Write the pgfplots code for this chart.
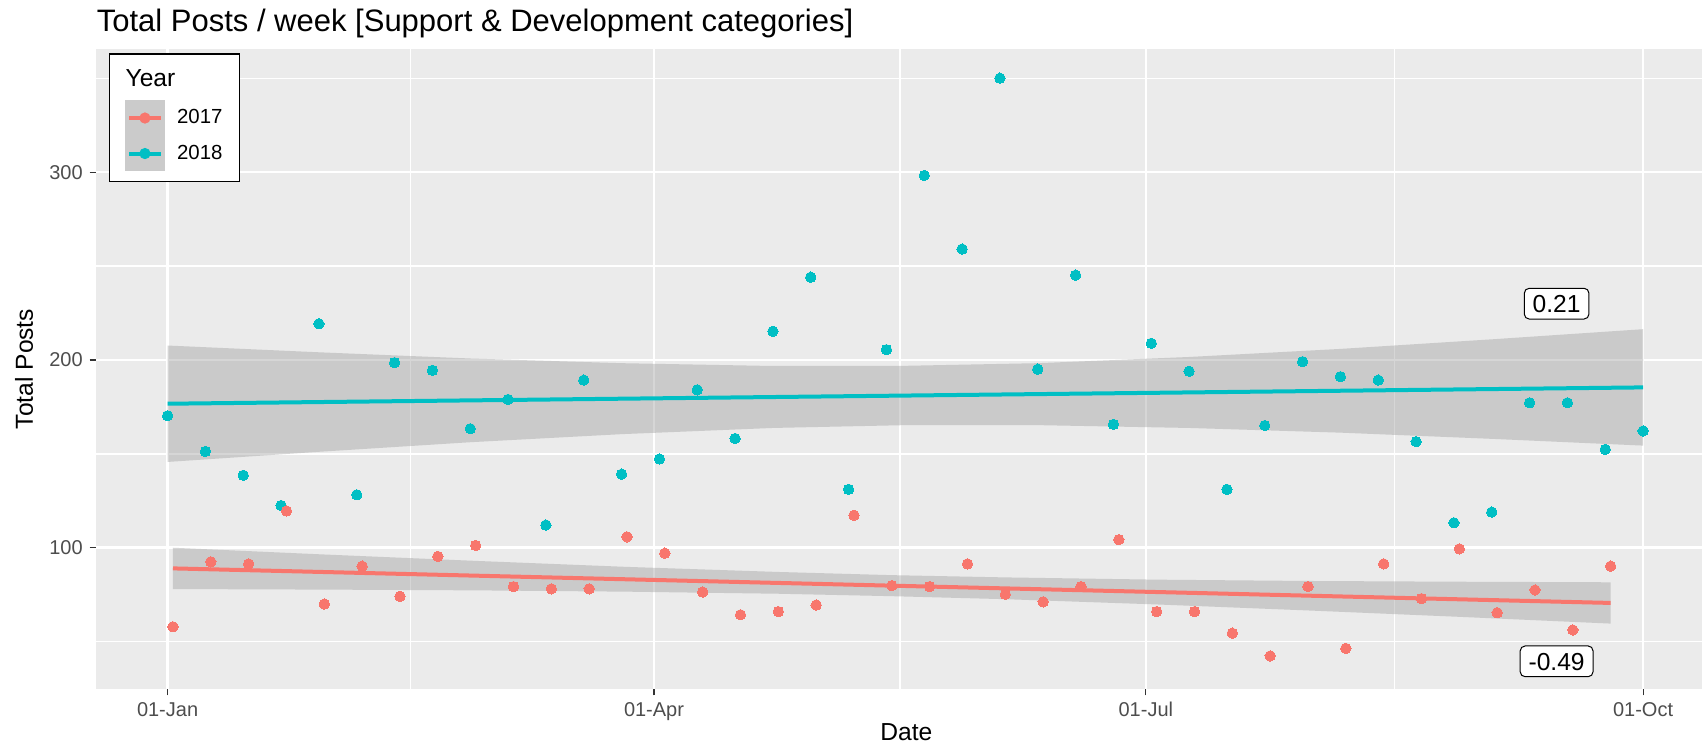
\documentclass[border=0pt]{standalone}
\usepackage{pgfplots}
\pgfplotsset{compat=1.18}
\usepackage{fontspec}
\setmainfont{Liberation Sans}

\definecolor{ggred}{HTML}{F8766D}
\definecolor{ggcyan}{HTML}{00BFC4}
\definecolor{ggbg}{HTML}{EBEBEB}
\definecolor{ggband}{HTML}{999999}
\definecolor{ggtick}{HTML}{333333}
\definecolor{ggtext}{HTML}{4D4D4D}
\definecolor{ggkey}{HTML}{CBCBCB}

% weekly totals, day of year (0 = 01-Jan)
\pgfplotstableread{
day posts
0 170.3
7 151.3
14 138.6
21 122.5
28 219.3
35 128.2
42 198.6
49 194.5
56 163.4
63 179.0
70 112.1
77 189.3
84 139.2
91 147.3
98 184.1
105 158.2
112 215.3
119 244.1
126 131.1
133 205.5
140 298.3
147 259.1
154 350.1
161 195.1
168 245.2
175 165.7
182 208.9
189 194.0
196 131.1
203 165.1
210 199.1
217 191.1
224 189.3
231 156.5
238 113.3
245 119.0
252 177.2
259 177.2
266 152.4
273 162.2
}\postsEighteen

\pgfplotstableread{
day posts
1 57.9
8 92.5
15 91.4
22 119.6
29 70.0
36 90.2
43 74.1
50 95.4
57 101.2
64 79.3
71 78.1
78 78.1
85 105.8
92 97.1
99 76.4
106 64.3
113 66.0
120 69.5
127 117.3
134 79.8
141 79.3
148 91.4
155 75.2
162 71.2
169 79.3
176 104.3
183 66.0
190 66.0
197 54.5
204 42.4
211 79.3
218 46.4
225 91.4
232 72.9
239 99.4
246 65.4
253 77.5
260 56.2
267 90.2
}\postsSeventeen

\begin{document}
\begin{tikzpicture}
\useasboundingbox (-47.85pt,-27.85pt) rectangle (803.15pt,344.65pt);
\begin{axis}[
  at={(0pt,0pt)}, anchor=south west,
  scale only axis, width=803.15pt, height=320.3pt,
  xmin=-13.3, xmax=283.9, ymin=24.6, ymax=365.8,
  clip=false,
  axis background/.style={fill=ggbg},
  axis line style={draw=none},
  xtick={0,90,181,273}, xticklabels={01-Jan,01-Apr,01-Jul,01-Oct},
  ytick={100,200,300}, yticklabels={100,200,300},
  minor xtick={45,135.5,227}, minor ytick={50,150,250,350},
  grid=both,
  major grid style={white, line width=1.25pt},
  minor grid style={white, line width=0.65pt},
  tick align=outside, tick pos=left,
  major tick length=3pt, minor tick length=0pt,
  tick style={ggtick, line width=0.55pt},
  ticklabel style={font=\fontsize{10}{12}\selectfont, text=ggtext},
  xlabel={Date}, ylabel={Total Posts},
  label style={font=\fontsize{12.3}{14}\selectfont},
  xlabel style={at={(axis description cs:0.5047,-0.0665)}, anchor=center},
  ylabel style={at={(axis description cs:-0.04464,0.5)}, anchor=center},
  legend style={at={(axis description cs:0.01787,0.92007)}, anchor=north west,
    draw=none, fill=none, inner sep=0pt, row sep=0pt, column sep=6pt,
    nodes={inner sep=0pt, anchor=west, font=\fontsize{10.2}{12}\selectfont}},
  legend cell align=left,
]

% weekly points
\addplot[forget plot, ggcyan, only marks, mark=*, mark size=2.6pt,
  mark options={draw=ggcyan, fill=ggcyan, line width=0pt}] table[x=day, y=posts] {\postsEighteen};
\addplot[forget plot, ggred, only marks, mark=*, mark size=2.6pt,
  mark options={draw=ggred, fill=ggred, line width=0pt}] table[x=day, y=posts] {\postsSeventeen};

% 2017 linear fit with confidence band
\addplot[forget plot, fill=ggband, fill opacity=0.4, draw=none] coordinates {
  (1,100.0) (29,96.4) (57,93.0) (85,89.8) (113,87.1) (134,85.4) (155,84.2)
  (183,83.0) (211,82.3) (239,81.9) (267,81.6)
  (267,59.6) (239,63.2) (211,66.6) (183,69.8) (155,72.6) (134,74.2)
  (113,75.5) (85,76.6) (57,77.3) (29,77.7) (1,78.0)} -- cycle;
\addplot[forget plot, ggred, line width=2pt] coordinates {(1,89.0) (267,70.6)};

% 2018 linear fit with confidence band
\addplot[forget plot, fill=ggband, fill opacity=0.4, draw=none] coordinates {
  (0,207.7) (28,204.1) (56,200.8) (84,198.3) (112,196.8) (136.5,196.9)
  (161,198.3) (189,201.6) (217,205.9) (245,211.0) (273,216.4)
  (273,154.4) (245,158.0) (217,161.3) (189,163.8) (161,165.3) (136.5,165.3)
  (112,163.8) (84,160.5) (56,156.2) (28,151.1) (0,145.7)} -- cycle;
\addplot[forget plot, ggcyan, line width=2pt] coordinates {(0,176.7) (273,185.4)};

% correlation labels
\node[draw=black, line width=0.5pt, fill=white, rounded corners=2.5pt,
  font=\fontsize{12.3}{14}\selectfont, inner xsep=4.2pt, inner ysep=3.3pt,
  text height=8.8pt, text depth=0pt] at (axis cs:257,230) {0.21};
\node[draw=black, line width=0.5pt, fill=white, rounded corners=2.5pt,
  font=\fontsize{12.3}{14}\selectfont, inner xsep=4.2pt, inner ysep=3.3pt,
  text height=8.8pt, text depth=0pt] at (axis cs:257,39.5) {-0.49};

% legend frame and title
\draw[black, line width=0.55pt, fill=white]
  (axis description cs:0.00859,0.99173) rectangle (axis description cs:0.08952,0.79238);
\node[anchor=west, inner sep=0pt, font=\fontsize{12.3}{14}\selectfont]
  at (axis description cs:0.01837,0.95379) {Year};

\addlegendimage{legend image code/.code={
  \fill[ggkey] (0pt,-8.675pt) rectangle (19.75pt,8.675pt);
  \draw[ggred, line width=2pt] (1.95pt,0pt) -- (17.8pt,0pt);
  \fill[ggred] (9.875pt,0pt) circle (2.6pt);}}
\addlegendentry{2017}
\addlegendimage{legend image code/.code={
  \fill[ggkey] (0pt,-8.675pt) rectangle (19.75pt,8.675pt);
  \draw[ggcyan, line width=2pt] (1.95pt,0pt) -- (17.8pt,0pt);
  \fill[ggcyan] (9.875pt,0pt) circle (2.6pt);}}
\addlegendentry{2018}
\end{axis}

\node[anchor=base west, inner sep=0pt, font=\fontsize{15.5}{18}\selectfont]
  at (0.35pt,328.8pt) {Total Posts / week [Support \& Development categories]};
\end{tikzpicture}
\end{document}
